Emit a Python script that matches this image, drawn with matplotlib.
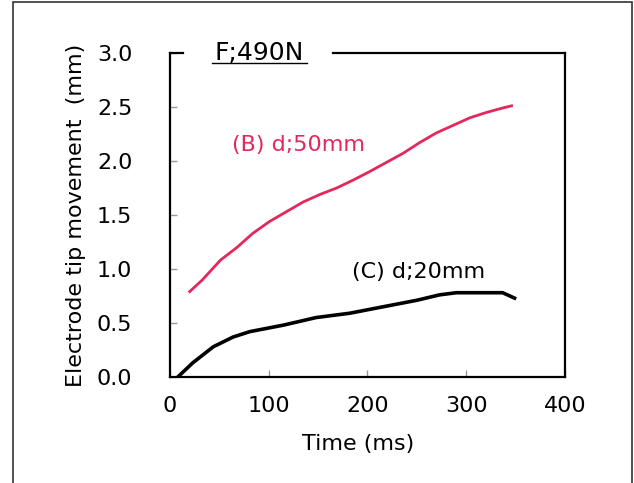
import matplotlib
matplotlib.use("Agg")
import matplotlib.pyplot as plt
from matplotlib.lines import Line2D
from matplotlib.patches import Rectangle

# (B) d;50mm  -- red curve
t_b = [20, 33, 51, 68, 84, 101, 118, 135, 152, 169, 185, 202, 220, 236,
       253, 270, 287, 304, 321, 337, 346]
y_b = [0.79, 0.90, 1.08, 1.20, 1.33, 1.44, 1.53, 1.62, 1.69, 1.75, 1.82,
       1.90, 1.99, 2.07, 2.17, 2.26, 2.33, 2.40, 2.45, 2.49, 2.51]

# (C) d;20mm  -- black curve
t_c = [8, 23, 44, 64, 81, 115, 148, 182, 216, 250, 273, 290, 337, 349]
y_c = [0.0, 0.13, 0.28, 0.37, 0.42, 0.48, 0.55, 0.59, 0.65, 0.71, 0.76,
       0.78, 0.78, 0.73]

xticks = [0, 100, 200, 300, 400]
yticks = [0.0, 0.5, 1.0, 1.5, 2.0, 2.5, 3.0]

plt.rcParams['font.family'] = 'DejaVu Sans'
plt.rcParams['font.size'] = 16

fig = plt.figure(figsize=(6.34, 4.83), dpi=100)
ax = fig.add_axes([0.268, 0.2195, 0.623, 0.671])

red = '#e4285c'
ax.plot(t_b, y_b, color=red, lw=2.0)
ax.plot(t_c, y_c, color='black', lw=2.6)

ax.set_xlim(0, 400)
ax.set_ylim(0, 3.0)
ax.set_xticks(xticks)
ax.set_yticks(yticks)
ax.set_yticklabels([f"{v:.1f}" for v in yticks])
ax.tick_params(axis='x', direction='in', length=5, width=1, color='#999999', pad=14)
ax.tick_params(axis='y', direction='in', length=5, width=1, color='#999999', pad=27)

ax.set_xlabel('Time (ms)')
ax.xaxis.set_label_coords(0.476, -0.176)
ax.set_ylabel('Electrode tip movement  (mm)', labelpad=8)

for s in ['left', 'right', 'bottom']:
    ax.spines[s].set_linewidth(1.6)
ax.spines['top'].set_visible(False)

# broken top spine around the title
for x0, x1 in [(0, 0.033), (0.413, 1.0)]:
    ax.add_line(Line2D([x0, x1], [1, 1], transform=ax.transAxes, color='black',
                       lw=1.6, clip_on=False))

ax.text(0.225, 1.0, 'F;490N', transform=ax.transAxes, ha='center', va='center',
        fontsize=18)
ax.add_line(Line2D([0.107, 0.347], [0.968, 0.968], transform=ax.transAxes,
                   color='black', lw=1.0, clip_on=False))

ax.text(63, 2.15, '(B) d;50mm', color=red, ha='left', va='center', fontsize=16)
ax.text(184, 0.97, '(C) d;20mm', color='black', ha='left', va='center', fontsize=16)

# outer frame
fig.patches.append(Rectangle((13 / 634, -0.05), 619 / 634, 1.05 - 2 / 483,
                             transform=fig.transFigure, fill=False,
                             edgecolor='#333333', lw=1.2))

fig.savefig('out.png', dpi=100)
